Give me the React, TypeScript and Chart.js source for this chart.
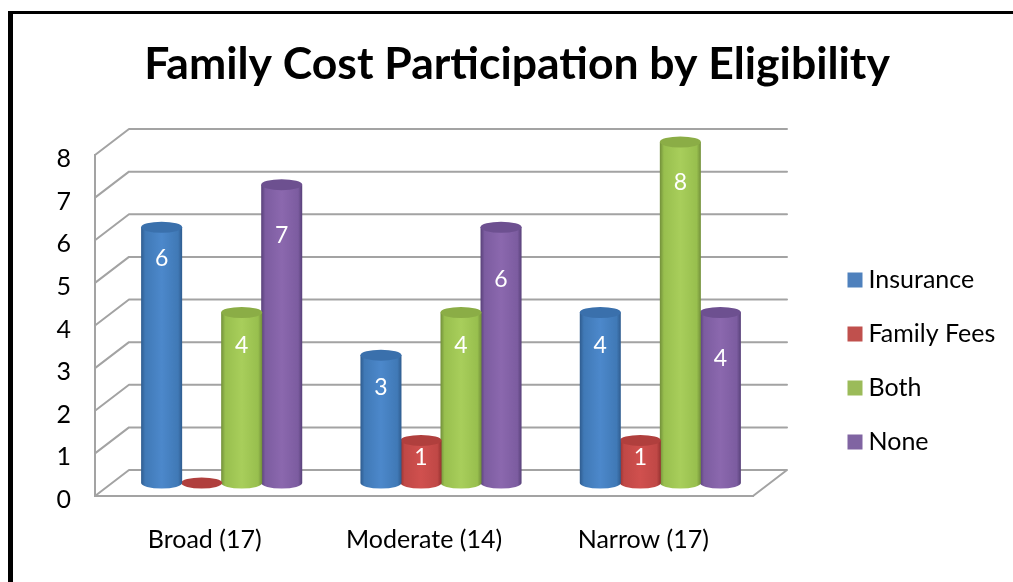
import React, { useEffect, useRef } from "react";
import { Chart, registerables } from "chart.js";

Chart.register(...registerables);

const titleText = "Family Cost Participation by Eligibility";
const categories = ["Broad (17)", "Moderate (14)", "Narrow (17)"];
const insurance = [6, 3, 4];
const familyFees = [0, 1, 1];
const both = [4, 4, 8];
const none = [7, 6, 4];
const seriesNames = ["Insurance", "Family Fees", "Both", "None"];
const seriesColors = ["#4F81BD", "#C0504D", "#9BBB59", "#8064A2"];

const FONT = "Lato, Carlito, 'Open Sans', sans-serif";
const GRID = "#A3A3A3";
const DEPTH_X = 34;
const DEPTH_Y = 26;
const RY = 5.5;

// per-series shading of the cylinders: edge, mid, highlight, lid
const shades = [
  ["#2F5C8F", "#4079B6", "#4C88CB", "#3A70AC"],
  ["#963230", "#C04846", "#D0504E", "#B03F3D"],
  ["#728F3A", "#98BF4E", "#A8CE5B", "#8BAD46"],
  ["#584179", "#7C5CA0", "#8B68AE", "#6D5090"],
];
// how far below the lid the value labels sit in each cylinder
const labelDrops = [
  [31, 32, 33],
  [0, 17, 17],
  [33, 33, 41],
  [51, 52, 46],
];

const depthPlugin = {
  id: "depth3d",
  beforeLayout(chart: any) {
    const legend = chart.legend;
    if (legend && !legend.__wrapped) {
      const fit = legend.fit;
      legend.fit = function () {
        fit.call(this);
        this.width = 268;
      };
      legend.__wrapped = true;
    }
  },
  afterLayout(chart: any) {
    const legend = chart.legend;
    const w = legend.width;
    const h = legend.height;
    legend.left = 812;
    legend.right = 812 + w;
    legend.top = 224.5;
    legend.bottom = 224.5 + h;
  },
  beforeDatasetsDraw(chart: any) {
    const { ctx, scales, chartArea } = chart;
    const y = scales.y;
    ctx.save();
    ctx.strokeStyle = GRID;
    ctx.lineWidth = 2;
    ctx.lineCap = "round";
    ctx.lineJoin = "round";
    for (const t of y.ticks) {
      const py = y.getPixelForValue(t.value);
      ctx.beginPath();
      ctx.moveTo(chartArea.left, py);
      ctx.lineTo(chartArea.left + DEPTH_X, py - DEPTH_Y);
      ctx.lineTo(chartArea.right + DEPTH_X, py - DEPTH_Y);
      if (t.value === 0) ctx.lineTo(chartArea.right, py);
      ctx.stroke();
    }
    ctx.restore();
  },
  beforeDatasetDraw(chart: any, args: any) {
    const { ctx, scales } = chart;
    const i = args.index;
    const meta = chart.getDatasetMeta(i);
    const [edge, mid, hi, lid] = shades[i];
    const baseY = scales.y.getPixelForValue(0) - DEPTH_Y / 2;
    meta.data.forEach((bar: any) => {
      const cx = bar.x + DEPTH_X / 2;
      const topY = bar.y - DEPTH_Y / 2;
      const rx = bar.width / 2 + 0.5;
      ctx.save();
      if (topY < baseY - 0.5) {
        const g = ctx.createLinearGradient(cx - rx, 0, cx + rx, 0);
        g.addColorStop(0, edge);
        g.addColorStop(0.1, mid);
        g.addColorStop(0.5, hi);
        g.addColorStop(0.9, mid);
        g.addColorStop(1, edge);
        ctx.fillStyle = g;
        ctx.beginPath();
        ctx.moveTo(cx - rx, topY);
        ctx.lineTo(cx - rx, baseY);
        ctx.ellipse(cx, baseY, rx, RY, 0, Math.PI, 0, true);
        ctx.lineTo(cx + rx, topY);
        ctx.closePath();
        ctx.fill();
      }
      ctx.fillStyle = lid;
      ctx.beginPath();
      ctx.ellipse(cx, topY, rx, RY, 0, 0, Math.PI * 2);
      ctx.fill();
      ctx.restore();
    });
    return false;
  },
  afterDatasetsDraw(chart: any) {
    const { ctx } = chart;
    ctx.save();
    ctx.fillStyle = "#FFFFFF";
    ctx.font = `23px ${FONT}`;
    ctx.textAlign = "center";
    ctx.textBaseline = "middle";
    chart.data.datasets.forEach((ds: any, i: number) => {
      chart.getDatasetMeta(i).data.forEach((bar: any, j: number) => {
        if (!ds.data[j]) return;
        ctx.fillText(
          String(ds.data[j]),
          bar.x + DEPTH_X / 2,
          bar.y - DEPTH_Y / 2 + labelDrops[i][j]
        );
      });
    });
    ctx.restore();
  },
};

export default function App() {
  const ref = useRef<HTMLCanvasElement>(null);
  useEffect(() => {
    const allSeries = [insurance, familyFees, both, none];
    const chart = new Chart(ref.current as HTMLCanvasElement, {
      type: "bar",
      data: {
        labels: categories,
        datasets: allSeries.map((data, i) => ({
          label: seriesNames[i],
          data,
          backgroundColor: seriesColors[i],
          borderWidth: 0,
          categoryPercentage: 0.73,
          barPercentage: 1,
        })),
      },
      options: {
        responsive: false,
        animation: false,
        layout: { autoPadding: false, padding: 0 },
        plugins: {
          tooltip: { enabled: false },
          title: {
            display: true,
            text: titleText,
            color: "#000000",
            font: { family: FONT, size: 44.5, weight: "bold", lineHeight: 1.2 },
            padding: { top: 24, bottom: 63.6 },
          },
          legend: {
            position: "right",
            align: "start",
            labels: {
              color: "#000000",
              font: { family: FONT, size: 25 },
              usePointStyle: true,
              pointStyle: "rect",
              boxWidth: 2,
              boxHeight: 15,
              padding: 29,
            },
          },
        },
        scales: {
          x: {
            grid: { display: false, drawTicks: false },
            border: { display: true, color: GRID, width: 2 },
            ticks: {
              color: "#000000",
              font: { family: FONT, size: 25 },
              padding: 29,
              maxRotation: 0,
            },
            afterFit(s: any) {
              s.height = 86;
            },
          },
          y: {
            min: 0,
            max: 8,
            grid: { display: false, drawTicks: false },
            border: { display: true, color: GRID, width: 2 },
            ticks: {
              stepSize: 1,
              color: "#000000",
              font: { family: FONT, size: 25 },
              padding: 24,
              labelOffset: 4,
            },
            afterFit(s: any) {
              s.width = 82;
            },
          },
        },
      } as any,
      plugins: [depthPlugin as any],
    });
    return () => chart.destroy();
  }, []);
  return (
    <div style={{ position: "fixed", left: 0, top: 0, width: 1013, height: 582, overflow: "hidden", background: "#fff" }}>
      <div style={{ position: "absolute", left: 8, top: 11, width: 1200, height: 800, borderLeft: "5px solid #000", borderTop: "3px solid #000" }} />
      <canvas ref={ref} width={1008} height={568} style={{ position: "absolute", left: 13, top: 14, width: 1008, height: 568 }} />
    </div>
  );
}
